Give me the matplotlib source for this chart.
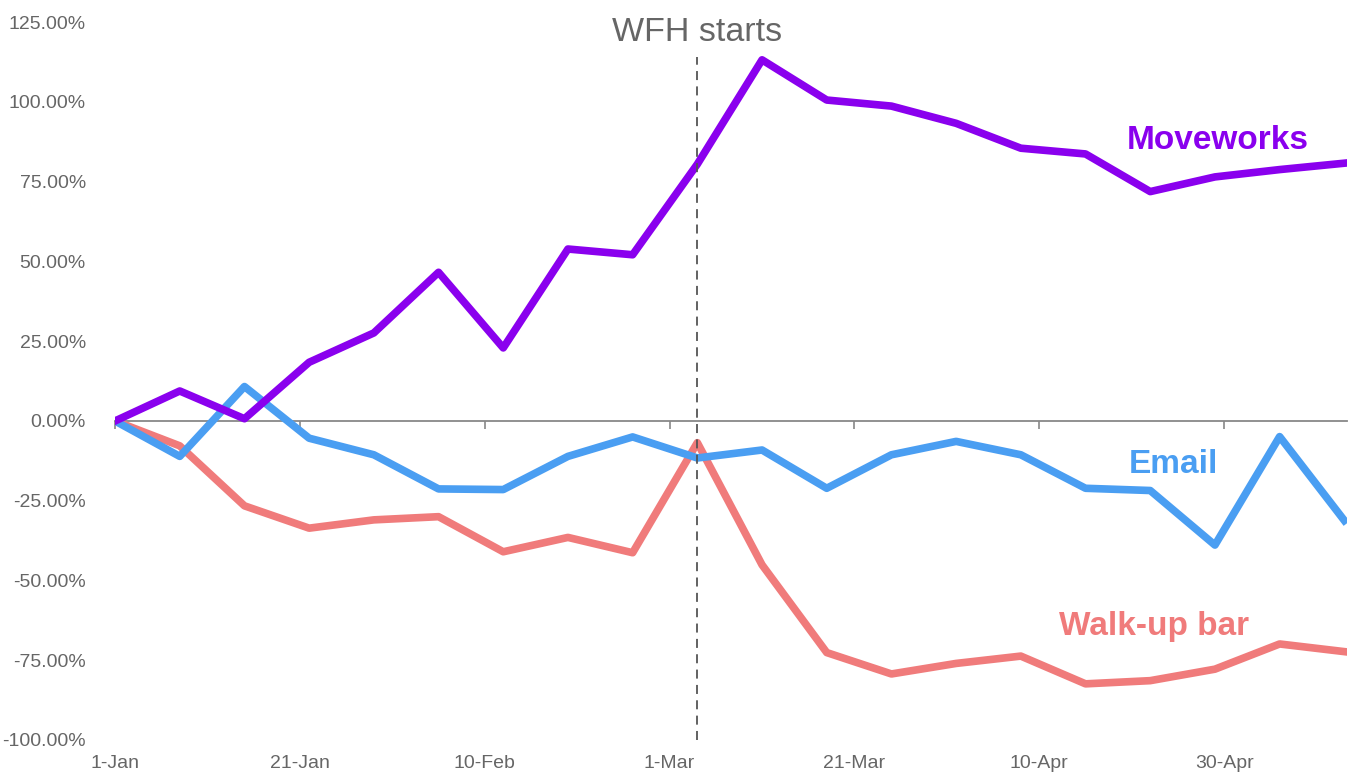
import numpy as np
import pandas as pd
import matplotlib
matplotlib.use('Agg')
import matplotlib.pyplot as plt
import matplotlib.dates as mdates
from matplotlib.ticker import FuncFormatter

plt.rcParams['font.family'] = ['Liberation Sans', 'DejaVu Sans']

# weekly points, starting 1-Jan-2020
dates = pd.date_range('2020-01-01', periods=20, freq='7D')

moveworks = [0, 9.4, 0.7, 18.4, 27.6, 46.6, 22.9, 53.9, 52.1, 80.5,
             113.2, 100.6, 98.7, 93.3, 85.5, 83.7, 71.9, 76.5, 78.8, 80.8]
email = [0, -11.1, 10.8, -5.4, -10.6, -21.3, -21.5, -11.1, -5.0, -11.6,
         -9.1, -21.1, -10.6, -6.4, -10.6, -21.1, -21.8, -38.9, -4.9, -31.2]
walkup = [0, -7.8, -26.6, -33.6, -31.0, -30.0, -41.0, -36.5, -41.3, -6.8,
          -45.1, -72.6, -79.3, -76.0, -73.7, -82.4, -81.4, -77.8, -69.9, -72.3]

tick_dates = pd.date_range('2020-01-01', periods=7, freq='20D')
wfh_date = pd.Timestamp('2020-03-04')

c_purple = '#8a00ee'
c_blue = '#4a9ef2'
c_red = '#f07b7b'
c_grey = '#666666'

fig = plt.figure(figsize=(13.52, 7.76), dpi=100)
ax = fig.add_axes([0.0851, 0.0464, 0.9115, 0.925])

ax.plot(dates, walkup, color=c_red, lw=5.5, solid_joinstyle='round', zorder=3)
ax.plot(dates, email, color=c_blue, lw=5.5, solid_joinstyle='round', zorder=4)
ax.plot(dates, moveworks, color=c_purple, lw=5.5, solid_joinstyle='round', zorder=5)

# WFH marker
ax.vlines(wfh_date, -100, 114, colors='#555555', linestyles=(0, (5, 3.5)), lw=1.3, zorder=6)
ax.text(wfh_date, 119.2, 'WFH starts', ha='center', va='baseline', fontsize=24.5, color=c_grey)

# series labels instead of a legend
ax.text(pd.Timestamp('2020-04-19 12:00'), 85.3, 'Moveworks', fontsize=24, fontweight='bold',
        color=c_purple, va='baseline')
ax.text(pd.Timestamp('2020-04-19 16:00'), -16.2, 'Email', fontsize=24, fontweight='bold',
        color=c_blue, va='baseline')
ax.text(pd.Timestamp('2020-04-12 04:00'), -67.1, 'Walk-up bar', fontsize=24, fontweight='bold',
        color=c_red, va='baseline')

ax.set_xlim(pd.Timestamp('2020-01-01'), pd.Timestamp('2020-05-13 08:00'))
ax.set_ylim(-100, 125)
ax.set_yticks(np.arange(-100, 126, 25))
ax.yaxis.set_major_formatter(FuncFormatter(lambda v, p: f'{v:.2f}%'))
ax.tick_params(axis='y', length=0, pad=21, labelsize=14, labelcolor=c_grey)

for s in ['top', 'right', 'left']:
    ax.spines[s].set_visible(False)
ax.spines['bottom'].set_position(('data', 0))
ax.spines['bottom'].set_color('#888888')
ax.spines['bottom'].set_linewidth(1.3)
ax.set_xticks(tick_dates)
ax.tick_params(axis='x', direction='out', length=6, color='#888888', width=1.2, labelbottom=False)

# date labels stay at the bottom edge
sec = ax.secondary_xaxis(0)
sec.set_xticks(tick_dates)
sec.xaxis.set_major_formatter(mdates.DateFormatter('%-d-%b'))
sec.tick_params(length=0, pad=11, labelsize=14, labelcolor=c_grey)
sec.spines['bottom'].set_visible(False)

fig.savefig('out.png', dpi=100)
